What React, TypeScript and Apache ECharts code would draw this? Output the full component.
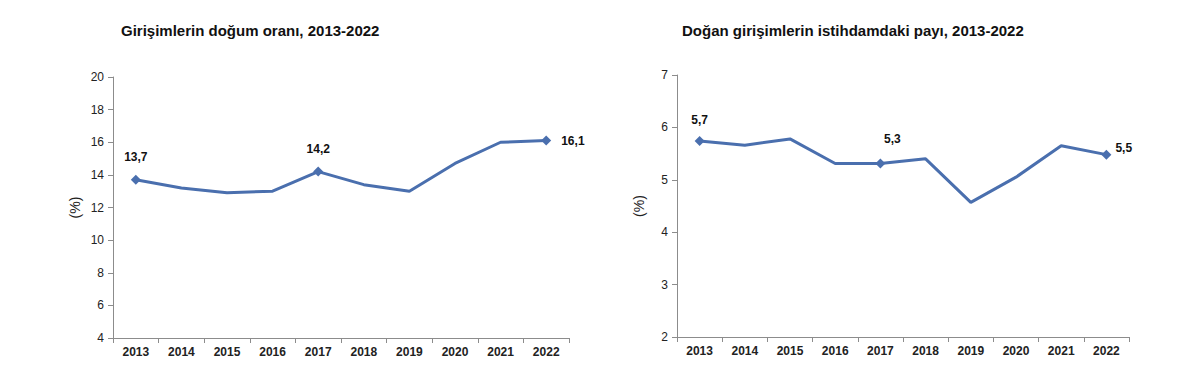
import React, { useEffect, useRef } from "react";
import * as echarts from "echarts";

const years = ["2013", "2014", "2015", "2016", "2017", "2018", "2019", "2020", "2021", "2022"];
const birthRate = [13.7, 13.2, 12.9, 13.0, 14.2, 13.4, 13.0, 14.7, 16.0, 16.1];
const employmentShare = [5.74, 5.66, 5.78, 5.31, 5.31, 5.4, 4.57, 5.05, 5.65, 5.48];
const leftLabeled = [0, 4, 9];
const rightLabeled = [0, 4, 9];
const leftTitle = "Girişimlerin doğum oranı, 2013-2022";
const rightTitle = "Doğan girişimlerin istihdamdaki payı, 2013-2022";

const LINE = "#4a6fae";
const FONT = "Liberation Sans, Arial, sans-serif";

function fmt(v: number) {
  return v.toFixed(1).replace(".", ",");
}

function buildData(values: number[], labeled: number[], labelCfg: Record<number, any>) {
  return values.map((v, i) => {
    if (labeled.includes(i)) {
      return {
        value: v,
        symbol: "diamond",
        symbolSize: 10,
        label: { show: true, formatter: fmt(v), ...labelCfg[i] },
      };
    }
    return { value: v, symbol: "none" };
  });
}

export default function App() {
  const ref = useRef<HTMLDivElement>(null);
  useEffect(() => {
    if (!ref.current) return;
    const chart = echarts.init(ref.current, undefined, { renderer: "svg" });
    const xAxisBase = (gridIndex: number) => ({
      type: "category" as const,
      gridIndex,
      data: years,
      boundaryGap: true,
      axisLine: { lineStyle: { color: "#8c8c8c", width: 1 } },
      axisTick: { show: true, length: 5, lineStyle: { color: "#8c8c8c" } },
      axisLabel: { color: "#222", fontSize: 12, fontWeight: "bold", fontFamily: FONT, margin: 8 },
      splitLine: { show: false },
    });
    const yAxisBase = (gridIndex: number, min: number, max: number, interval: number) => ({
      type: "value" as const,
      gridIndex,
      min,
      max,
      interval,
      name: "(%)",
      nameLocation: "middle" as const,
      nameRotate: 90,
      nameGap: 31,
      nameTextStyle: { color: "#222", fontSize: 14, fontFamily: FONT },
      axisLine: { show: true, lineStyle: { color: "#8c8c8c", width: 1 } },
      axisTick: { show: true, length: 5, lineStyle: { color: "#8c8c8c" } },
      axisLabel: { color: "#222", fontSize: 12, fontFamily: FONT, margin: 9 },
      splitLine: { show: false },
    });
    const labelBase = { color: "#111", fontSize: 12, fontWeight: "bold", fontFamily: FONT };
    chart.setOption({
      animation: false,
      backgroundColor: "#ffffff",
      title: [
        { text: leftTitle, left: 116, top: 18, textStyle: { fontSize: 15, fontWeight: "bold", color: "#111", fontFamily: FONT } },
        { text: rightTitle, left: 677, top: 18, textStyle: { fontSize: 15, fontWeight: "bold", color: "#111", fontFamily: FONT } },
      ],
      grid: [
        { left: 113, top: 77, width: 456, height: 261 },
        { left: 677, top: 75, width: 452, height: 262 },
      ],
      xAxis: [xAxisBase(0), xAxisBase(1)],
      yAxis: [yAxisBase(0, 4, 20, 2), yAxisBase(1, 2, 7, 1)],
      series: [
        {
          type: "line",
          xAxisIndex: 0,
          yAxisIndex: 0,
          data: buildData(birthRate, leftLabeled, {
            0: { position: "top", distance: 12 },
            4: { position: "top", distance: 12 },
            9: { position: "right", distance: 10 },
          }),
          lineStyle: { color: LINE, width: 3 },
          itemStyle: { color: LINE },
          label: labelBase,
        },
        {
          type: "line",
          xAxisIndex: 1,
          yAxisIndex: 1,
          data: buildData(employmentShare, rightLabeled, {
            0: { position: "top", distance: 10 },
            4: { position: "top", distance: 14, offset: [12, 0] },
            9: { position: "right", distance: 4, offset: [0, -7] },
          }),
          lineStyle: { color: LINE, width: 3 },
          itemStyle: { color: LINE },
          label: labelBase,
        },
      ],
    });
    return () => chart.dispose();
  }, []);
  return (
    <div
      ref={ref}
      style={{ position: "absolute", left: 0, top: 0, width: 1200, height: 372, background: "#fff" }}
    />
  );
}
